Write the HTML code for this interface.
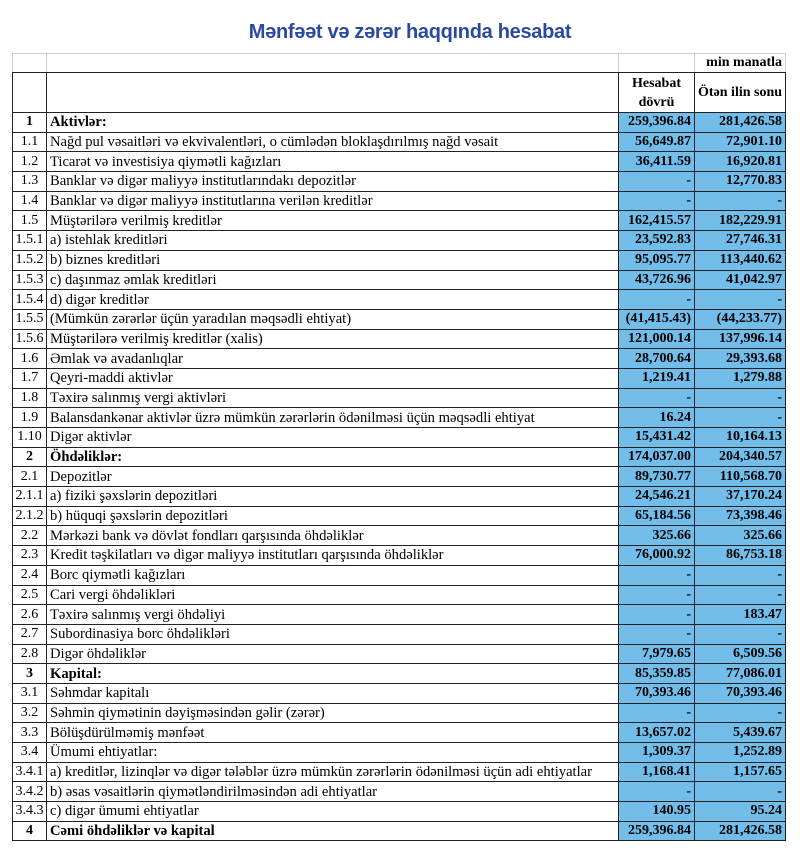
<!DOCTYPE html>
<html><head><meta charset="utf-8"><style>
body{margin:0;width:800px;height:855px;background:#fff;position:relative;overflow:hidden;font-family:"Liberation Serif","DejaVu Serif",serif;}
h1{position:absolute;left:0;width:820px;top:21px;margin:0;text-align:center;font:bold 20px "Liberation Sans",sans-serif;color:#2a4a9e;letter-spacing:-0.3px;}
table{position:absolute;left:12px;top:53px;border-collapse:collapse;table-layout:fixed;width:773px;font-size:14.6px;}
td{border:1px solid #222;padding:0 3px;height:18.7px;line-height:18px;white-space:nowrap;overflow:hidden;}
td.n{text-align:center;padding:0;font-size:14px;}
td.v{background:#72bde9;text-align:right;font-weight:bold;font-size:14px;}
tr.b td{font-weight:bold;}
tr.h1 td{height:18px;border-color:#ccc #ccc #222 #ccc;}
tr.h2 td{height:39px;line-height:19px;text-align:center;font-weight:bold;font-size:14px;}
</style></head><body>
<h1>Mənfəət və zərər haqqında hesabat</h1>
<table>
<col style="width:34px"><col style="width:572px"><col style="width:76px"><col style="width:91px">
<tr class="h1"><td></td><td></td><td></td><td style="text-align:right;font-weight:bold;font-size:14px;border-color:#ccc #ccc #222 #222">min manatla</td></tr>
<tr class="h2"><td></td><td></td><td>Hesabat<br>dövrü</td><td>Ötən ilin sonu</td></tr>
<tr class="b"><td class="n">1</td><td>Aktivlər:</td><td class="v">259,396.84</td><td class="v">281,426.58</td></tr>
<tr><td class="n">1.1</td><td>Nağd pul vəsaitləri və  ekvivalentləri, o cümlədən bloklaşdırılmış nağd vəsait</td><td class="v">56,649.87</td><td class="v">72,901.10</td></tr>
<tr><td class="n">1.2</td><td>Ticarət və investisiya qiymətli kağızları</td><td class="v">36,411.59</td><td class="v">16,920.81</td></tr>
<tr><td class="n">1.3</td><td>Banklar və digər maliyyə institutlarındakı depozitlər</td><td class="v">-</td><td class="v">12,770.83</td></tr>
<tr><td class="n">1.4</td><td>Banklar və digər maliyyə institutlarına verilən kreditlər</td><td class="v">-</td><td class="v">-</td></tr>
<tr><td class="n">1.5</td><td>Müştərilərə verilmiş kreditlər</td><td class="v">162,415.57</td><td class="v">182,229.91</td></tr>
<tr><td class="n">1.5.1</td><td>a) istehlak kreditləri</td><td class="v">23,592.83</td><td class="v">27,746.31</td></tr>
<tr><td class="n">1.5.2</td><td>b) biznes kreditləri</td><td class="v">95,095.77</td><td class="v">113,440.62</td></tr>
<tr><td class="n">1.5.3</td><td>c) daşınmaz əmlak kreditləri</td><td class="v">43,726.96</td><td class="v">41,042.97</td></tr>
<tr><td class="n">1.5.4</td><td>d) digər kreditlər</td><td class="v">-</td><td class="v">-</td></tr>
<tr><td class="n">1.5.5</td><td>(Mümkün zərərlər üçün yaradılan məqsədli ehtiyat)</td><td class="v">(41,415.43)</td><td class="v">(44,233.77)</td></tr>
<tr><td class="n">1.5.6</td><td>Müştərilərə verilmiş kreditlər (xalis)</td><td class="v">121,000.14</td><td class="v">137,996.14</td></tr>
<tr><td class="n">1.6</td><td>Əmlak və avadanlıqlar</td><td class="v">28,700.64</td><td class="v">29,393.68</td></tr>
<tr><td class="n">1.7</td><td>Qeyri-maddi aktivlər</td><td class="v">1,219.41</td><td class="v">1,279.88</td></tr>
<tr><td class="n">1.8</td><td>Təxirə salınmış vergi aktivləri</td><td class="v">-</td><td class="v">-</td></tr>
<tr><td class="n">1.9</td><td>Balansdankənar aktivlər üzrə mümkün zərərlərin ödənilməsi üçün məqsədli ehtiyat</td><td class="v">16.24</td><td class="v">-</td></tr>
<tr><td class="n">1.10</td><td>Digər aktivlər</td><td class="v">15,431.42</td><td class="v">10,164.13</td></tr>
<tr class="b"><td class="n">2</td><td>Öhdəliklər:</td><td class="v">174,037.00</td><td class="v">204,340.57</td></tr>
<tr><td class="n">2.1</td><td>Depozitlər</td><td class="v">89,730.77</td><td class="v">110,568.70</td></tr>
<tr><td class="n">2.1.1</td><td>a) fiziki şəxslərin depozitləri</td><td class="v">24,546.21</td><td class="v">37,170.24</td></tr>
<tr><td class="n">2.1.2</td><td>b) hüquqi şəxslərin depozitləri</td><td class="v">65,184.56</td><td class="v">73,398.46</td></tr>
<tr><td class="n">2.2</td><td>Mərkəzi bank və dövlət fondları qarşısında öhdəliklər</td><td class="v">325.66</td><td class="v">325.66</td></tr>
<tr><td class="n">2.3</td><td>Kredit təşkilatları və digər maliyyə institutları qarşısında öhdəliklər</td><td class="v">76,000.92</td><td class="v">86,753.18</td></tr>
<tr><td class="n">2.4</td><td>Borc qiymətli kağızları</td><td class="v">-</td><td class="v">-</td></tr>
<tr><td class="n">2.5</td><td>Cari vergi öhdəlikləri</td><td class="v">-</td><td class="v">-</td></tr>
<tr><td class="n">2.6</td><td>Təxirə salınmış vergi öhdəliyi</td><td class="v">-</td><td class="v">183.47</td></tr>
<tr><td class="n">2.7</td><td>Subordinasiya borc öhdəlikləri</td><td class="v">-</td><td class="v">-</td></tr>
<tr><td class="n">2.8</td><td>Digər öhdəliklər</td><td class="v">7,979.65</td><td class="v">6,509.56</td></tr>
<tr class="b"><td class="n">3</td><td>Kapital:</td><td class="v">85,359.85</td><td class="v">77,086.01</td></tr>
<tr><td class="n">3.1</td><td>Səhmdar kapitalı</td><td class="v">70,393.46</td><td class="v">70,393.46</td></tr>
<tr><td class="n">3.2</td><td>Səhmin qiymətinin dəyişməsindən gəlir (zərər)</td><td class="v">-</td><td class="v">-</td></tr>
<tr><td class="n">3.3</td><td>Bölüşdürülməmiş mənfəət</td><td class="v">13,657.02</td><td class="v">5,439.67</td></tr>
<tr><td class="n">3.4</td><td>Ümumi ehtiyatlar:</td><td class="v">1,309.37</td><td class="v">1,252.89</td></tr>
<tr><td class="n">3.4.1</td><td>a) kreditlər, lizinqlər və digər tələblər üzrə mümkün zərərlərin ödənilməsi üçün adi ehtiyatlar</td><td class="v">1,168.41</td><td class="v">1,157.65</td></tr>
<tr><td class="n">3.4.2</td><td>b) əsas vəsaitlərin qiymətləndirilməsindən adi ehtiyatlar</td><td class="v">-</td><td class="v">-</td></tr>
<tr><td class="n">3.4.3</td><td>c) digər ümumi ehtiyatlar</td><td class="v">140.95</td><td class="v">95.24</td></tr>
<tr class="b"><td class="n">4</td><td>Cəmi öhdəliklər və kapital</td><td class="v">259,396.84</td><td class="v">281,426.58</td></tr>
</table>
</body></html>
